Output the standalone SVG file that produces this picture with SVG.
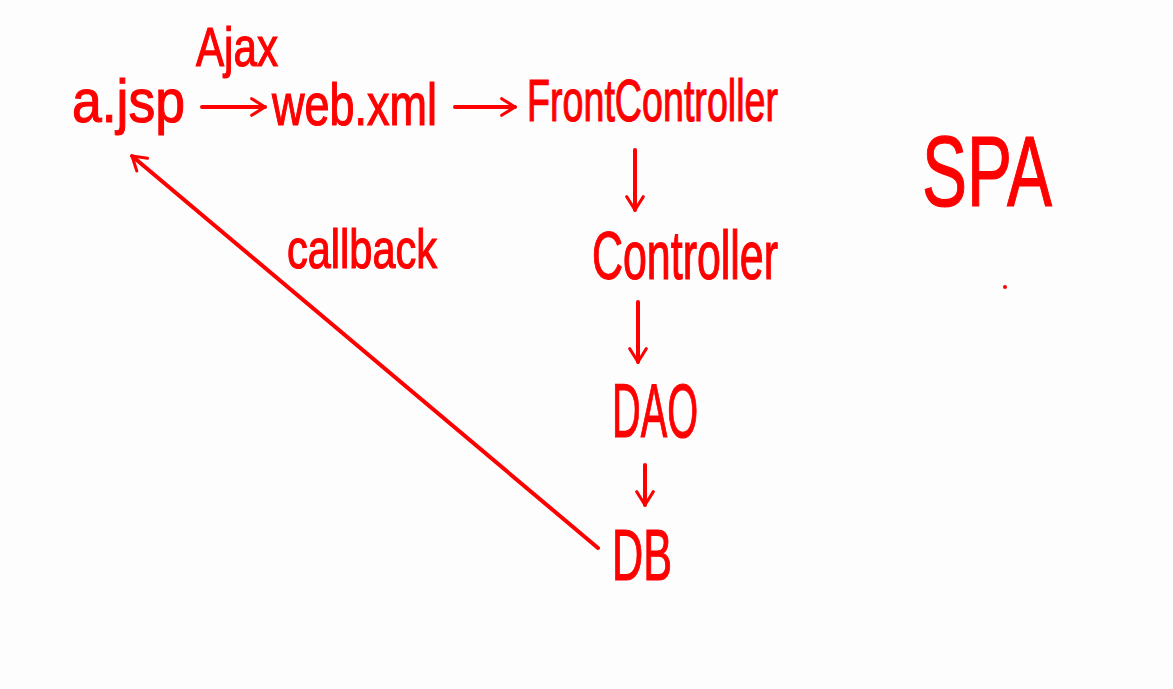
<svg xmlns="http://www.w3.org/2000/svg" width="1173" height="689" viewBox="0 0 1173 689">
<style>
text{font-family:"Liberation Sans",Arial,sans-serif;fill:#ff0000;stroke:#ff0000;stroke-width:1.2;}
.c{stroke:#ff0000;stroke-width:4;fill:none;stroke-linecap:round;}
</style>
<defs>
<marker id="ah" viewBox="0 0 12 12" refX="10" refY="6" markerWidth="5" markerHeight="5" orient="auto" markerUnits="strokeWidth">
<path d="M2,1 L10,6 L2,11" fill="none" stroke="#ff0000" stroke-width="1.8" stroke-linecap="round" stroke-linejoin="round"/>
</marker>
</defs>
<rect width="1173" height="689" fill="#fdfdfd"/>
<g id="ajax"><text x="196" y="66" font-size="56" textLength="82" lengthAdjust="spacingAndGlyphs">Ajax</text></g>
<g id="a-jsp"><text x="72" y="122" font-size="62" textLength="113" lengthAdjust="spacingAndGlyphs">a.jsp</text></g>
<g id="web-xml"><text x="272" y="125" font-size="60" textLength="165" lengthAdjust="spacingAndGlyphs">web.xml</text></g>
<g id="front-controller"><text x="527" y="121" font-size="60" textLength="251" lengthAdjust="spacingAndGlyphs">FrontController</text></g>
<g id="controller"><text x="592" y="279" font-size="68" textLength="186" lengthAdjust="spacingAndGlyphs">Controller</text></g>
<g id="dao"><text x="612" y="437" font-size="76" textLength="86" lengthAdjust="spacingAndGlyphs">DAO</text></g>
<g id="db"><text x="612" y="580" font-size="72" textLength="60" lengthAdjust="spacingAndGlyphs">DB</text></g>
<g id="callback"><text x="287" y="268" font-size="56" textLength="150" lengthAdjust="spacingAndGlyphs">callback</text></g>
<g id="spa"><text x="922" y="206" font-size="100" textLength="130" lengthAdjust="spacingAndGlyphs">SPA</text></g>
<circle cx="1005" cy="287" r="2" fill="#ff0000"/>
<g id="connectors">
<line class="c" x1="202" y1="107" x2="265" y2="107" marker-end="url(#ah)"/>
<line class="c" x1="455" y1="107" x2="515" y2="107" marker-end="url(#ah)"/>
<line class="c" x1="635" y1="150" x2="635" y2="210" marker-end="url(#ah)"/>
<line class="c" x1="638" y1="302" x2="638" y2="362" marker-end="url(#ah)"/>
<line class="c" x1="645" y1="465" x2="645" y2="505" marker-end="url(#ah)"/>
<line class="c" x1="598" y1="548" x2="132" y2="156" marker-end="url(#ah)"/>
</g>
</svg>
